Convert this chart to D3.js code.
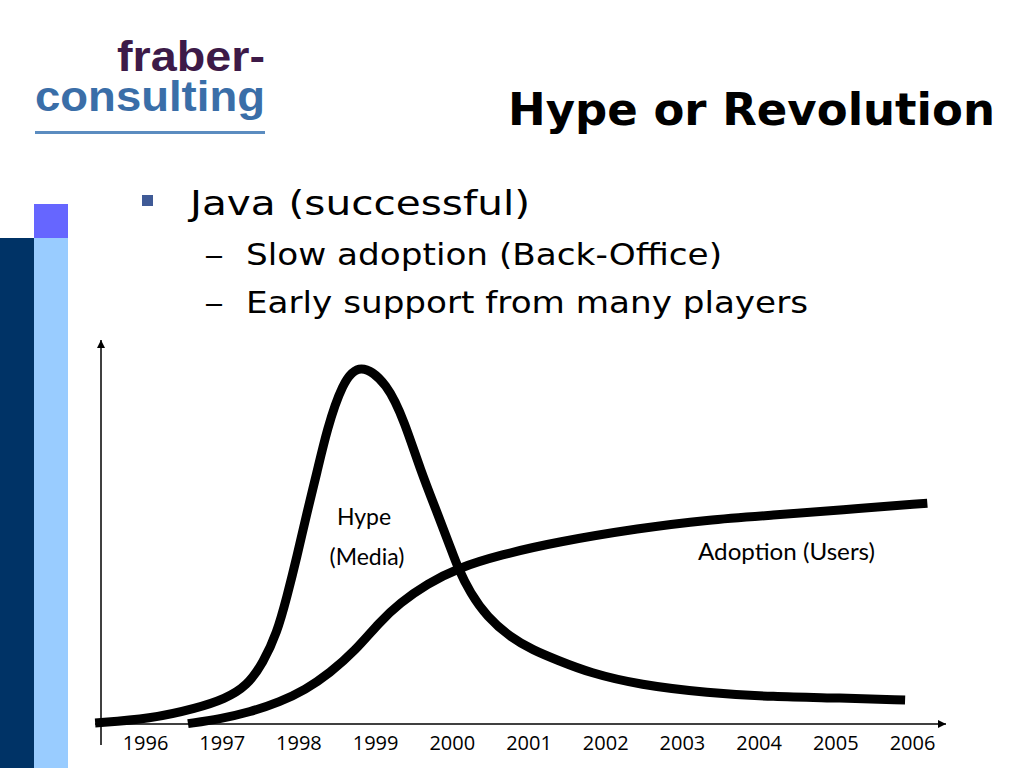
<!DOCTYPE html>
<html>
<head>
<meta charset="utf-8">
<script src="https://d3js.org/d3.v7.min.js"></script>
<style>
  body { margin: 0; background: #fff; }
  svg { display: block; }
</style>
</head>
<body>
<svg id="slide"></svg>
<script>
// Year ticks on the x axis
const years = [1996, 1997, 1998, 1999, 2000, 2001, 2002, 2003, 2004, 2005, 2006];

// Hype (Media) curve: [year, level 0..100]
const hype = [
  [1995.35, 0.3], [1996.07, 1.4], [1996.68, 4.4], [1997.04, 6.9], [1997.33, 10.5],
  [1997.54, 16.9], [1997.72, 25.1], [1997.85, 35.1], [1997.98, 46.1], [1998.11, 58.3],
  [1998.24, 69.3], [1998.37, 81.2], [1998.57, 94.2], [1998.80, 100], [1999.16, 94.2],
  [1999.39, 83.1], [1999.59, 70.2], [1999.81, 58.3], [1999.98, 48.9], [2000.08, 43.1],
  [2000.24, 36.2], [2000.46, 29.6], [2000.76, 24.0], [2001.06, 20.4], [2001.37, 17.7],
  [2001.80, 14.1], [2002.45, 10.8], [2003.33, 8.6], [2004.19, 7.5], [2005.06, 7.2],
  [2005.91, 6.6]
];

// Adoption (Users) curve
const adoption = [
  [1996.56, 0.1], [1996.98, 1.4], [1997.37, 3.3], [1997.76, 6.1], [1998.09, 9.4],
  [1998.41, 14.1], [1998.74, 20.2], [1999.06, 28.2], [1999.32, 33.4], [1999.68, 38.7],
  [2000.08, 43.1], [2000.63, 46.7], [2001.37, 50.3], [2002.45, 54.1], [2003.33, 56.4],
  [2004.19, 57.7], [2005.06, 59.1], [2006.20, 61.0]
];

const bullets = ["Java (successful)"];
const subBullets = ["Slow adoption (Back-Office)", "Early support from many players"];
const subWidths = [476, 562];

const W = 1024, H = 768;
const svg = d3.select("#slide").attr("width", W).attr("height", H);
const sans = "'DejaVu Sans', Verdana, sans-serif";

// Left decoration bars
svg.append("rect").attr("x", 0).attr("y", 238).attr("width", 34).attr("height", H - 238).attr("fill", "#003366");
svg.append("rect").attr("x", 34).attr("y", 238).attr("width", 34).attr("height", H - 238).attr("fill", "#99ccff");
svg.append("rect").attr("x", 34).attr("y", 204).attr("width", 34).attr("height", 34).attr("fill", "#6666ff");

// Logo
svg.append("text").attr("x", 117).attr("y", 71)
    .attr("font-family", "'Liberation Sans', Arial, sans-serif").attr("font-weight", "bold")
    .attr("font-size", 43).attr("textLength", 148).attr("lengthAdjust", "spacingAndGlyphs")
    .attr("fill", "#3d1a48").text("fraber-");
svg.append("text").attr("x", 35).attr("y", 111)
    .attr("font-family", "'Liberation Sans', Arial, sans-serif").attr("font-weight", "bold")
    .attr("font-size", 42).attr("textLength", 230).attr("lengthAdjust", "spacingAndGlyphs")
    .attr("fill", "#3a6ea8").text("consulting");
svg.append("rect").attr("x", 35).attr("y", 131).attr("width", 230).attr("height", 3).attr("fill", "#5b8cc0");

// Title
svg.append("text").attr("x", 995).attr("y", 125).attr("text-anchor", "end")
    .attr("font-family", sans).attr("font-weight", "bold")
    .attr("font-size", 44).attr("textLength", 487).attr("lengthAdjust", "spacingAndGlyphs")
    .attr("fill", "#000").text("Hype or Revolution");

// Bullets
svg.append("rect").attr("x", 142).attr("y", 195).attr("width", 11).attr("height", 11).attr("fill", "#3f5a96");
svg.selectAll(".b1").data(bullets).enter().append("text")
    .attr("x", 190).attr("y", 215)
    .attr("font-family", sans).attr("font-size", 34)
    .attr("textLength", 340).attr("lengthAdjust", "spacingAndGlyphs")
    .text(d => d);
const sub = svg.selectAll(".b2").data(subBullets).enter().append("g")
    .attr("transform", (d, i) => "translate(0," + (265 + i * 48) + ")");
sub.append("text").attr("x", 204).attr("font-family", sans)
    .attr("font-size", 29).attr("textLength", 20).attr("lengthAdjust", "spacingAndGlyphs").text("\u2013");
sub.append("text").attr("x", 246).attr("font-family", sans)
    .attr("font-size", 30)
    .attr("textLength", (d, i) => subWidths[i]).attr("lengthAdjust", "spacingAndGlyphs")
    .text(d => d);

// Scales
let x = d3.scaleLinear().domain([1996, 2006]).range([145, 912]);
let y = d3.scaleLinear().domain([0, 100]).range([724, 362]);

// Arrow marker
svg.append("defs").append("marker")
    .attr("id", "arrow").attr("viewBox", "0 0 10 10").attr("refX", 10).attr("refY", 5)
    .attr("markerWidth", 8).attr("markerHeight", 8).attr("markerUnits", "userSpaceOnUse")
    .attr("orient", "auto")
    .append("path").attr("d", "M0,0L10,5L0,10Z").attr("fill", "#000");

// Axis lines
svg.append("line").attr("x1", 95).attr("y1", y(0)).attr("x2", 946).attr("y2", y(0))
    .attr("stroke", "#000").attr("stroke-width", 1.5).attr("marker-end", "url(#arrow)");
svg.append("line").attr("x1", 101).attr("y1", 745).attr("x2", 101).attr("y2", 340)
    .attr("stroke", "#000").attr("stroke-width", 1.5).attr("marker-end", "url(#arrow)");

// Year labels
let xAxis = svg.append("g")
    .attr("transform", "translate(0," + y(0) + ")")
    .call(d3.axisBottom(x).tickValues(years).tickFormat(d3.format("d")).tickSize(0).tickPadding(12));
xAxis.select(".domain").remove();
xAxis.selectAll("text").attr("font-family", "'Open Sans', sans-serif").attr("font-size", 20).attr("fill", "#000");

// Curves (B-spline smooths out the small reading errors)
let valueline = d3.line()
    .x(function(d) { return x(d[0]); })
    .y(function(d) { return y(d[1]); })
    .curve(d3.curveBasis);

svg.append("path").datum(hype).attr("d", valueline)
    .attr("fill", "none").attr("stroke", "#000").attr("stroke-width", 9);
svg.append("path").datum(adoption).attr("d", valueline)
    .attr("fill", "none").attr("stroke", "#000").attr("stroke-width", 9);

// Curve labels
const lblFont = "Lato, 'Open Sans', sans-serif";
svg.append("text").attr("x", 364).attr("y", 525).attr("text-anchor", "middle")
    .attr("font-family", lblFont).attr("font-size", 23).text("Hype");
svg.append("text").attr("x", 367).attr("y", 565).attr("text-anchor", "middle")
    .attr("font-family", lblFont).attr("font-size", 23).text("(Media)");
svg.append("text").attr("x", 698).attr("y", 560)
    .attr("font-family", lblFont).attr("font-size", 23)
    .attr("textLength", 177).attr("lengthAdjust", "spacingAndGlyphs").text("Adoption (Users)");
</script>
</body>
</html>
